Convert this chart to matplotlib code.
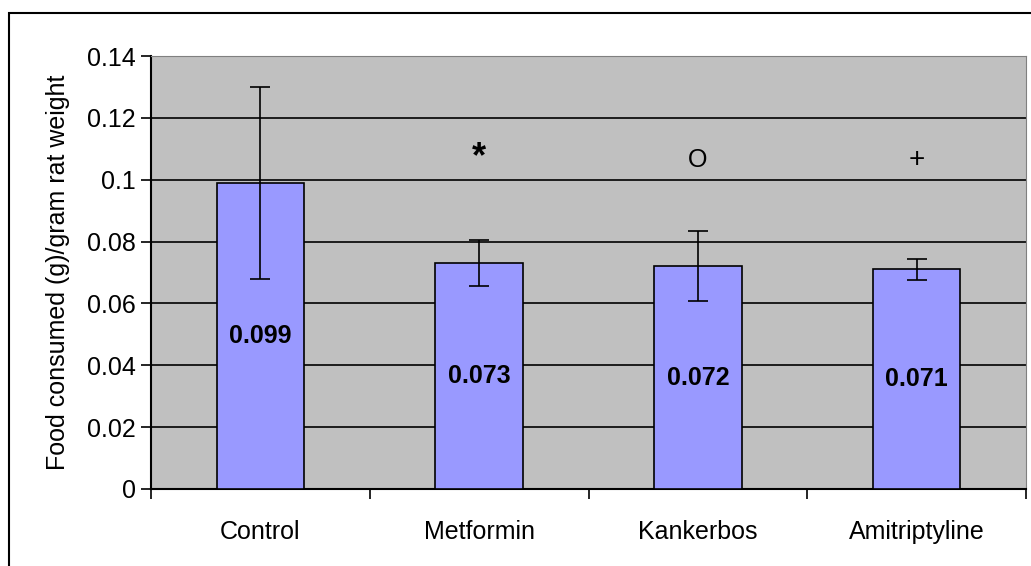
import matplotlib.pyplot as plt
import matplotlib.patches as patches
import numpy as np

plt.rcParams['font.family'] = ['Liberation Sans', 'DejaVu Sans']

groups = ['Control', 'Metformin', 'Kankerbos', 'Amitriptyline']
food = [0.099, 0.073, 0.072, 0.071]
err = [0.031, 0.0075, 0.0113, 0.0034]
marks = ['', '*', 'O', '+']
mark_sizes = [18, 26, 18, 20]

fig = plt.figure(figsize=(10.31, 5.66), dpi=100)
# chart frame around everything (runs off the right and bottom edges)
fig.patches.append(patches.Rectangle((9 / 1031, -0.01), 1.05, 1 - 13 / 566 + 0.01,
                                     transform=fig.transFigure, fill=False,
                                     edgecolor='black', linewidth=1.5))
ax = fig.add_axes([151 / 1031, 1 - 489 / 566, 875 / 1031, 433 / 566])
ax.set_facecolor('#c0c0c0')

x = np.arange(len(groups))
ax.bar(x, food, width=0.4, color='#9999ff', edgecolor='black', linewidth=1.2, zorder=3)
ax.errorbar(x, food, yerr=err, fmt='none', ecolor='black', elinewidth=1.2,
            capsize=7, capthick=1.2, zorder=4)

for i, v in enumerate(food):
    ax.text(x[i], v / 2, f'{v:.3f}', ha='center', va='center',
            fontsize=18, fontweight='bold', zorder=5)
for i, m in enumerate(marks):
    if m:
        ax.text(x[i], 0.104, m, ha='center', va='baseline', fontsize=mark_sizes[i],
                fontweight='bold' if m == '*' else 'normal', zorder=5)

ax.set_xlim(-0.5, len(groups) - 0.5)
ax.set_ylim(0, 0.14)
ax.set_yticks(np.arange(0, 0.141, 0.02))
ax.set_yticklabels(['0', '0.02', '0.04', '0.06', '0.08', '0.1', '0.12', '0.14'])
ax.yaxis.grid(True, color='black', linewidth=1.2, zorder=0)
ax.set_axisbelow(True)

# categories sit between the tick marks
ax.set_xticks(np.arange(-0.5, len(groups), 1.0))
ax.set_xticklabels([])
ax.set_xticks(x, minor=True)
ax.set_xticklabels(groups, minor=True)
ax.tick_params(axis='x', which='minor', length=0, pad=22, labelsize=18)
ax.tick_params(axis='x', which='major', direction='out', length=7, width=1.2)
ax.tick_params(axis='y', direction='out', length=7, width=1.2, labelsize=18, pad=4)

ax.spines['left'].set_linewidth(1.5)
ax.spines['bottom'].set_linewidth(1.5)
ax.spines['top'].set_color('#808080')
ax.spines['right'].set_color('#808080')

ax.set_ylabel('Food consumed (g)/gram rat weight', fontsize=18, labelpad=12)

fig.savefig('out.png', dpi=100)
